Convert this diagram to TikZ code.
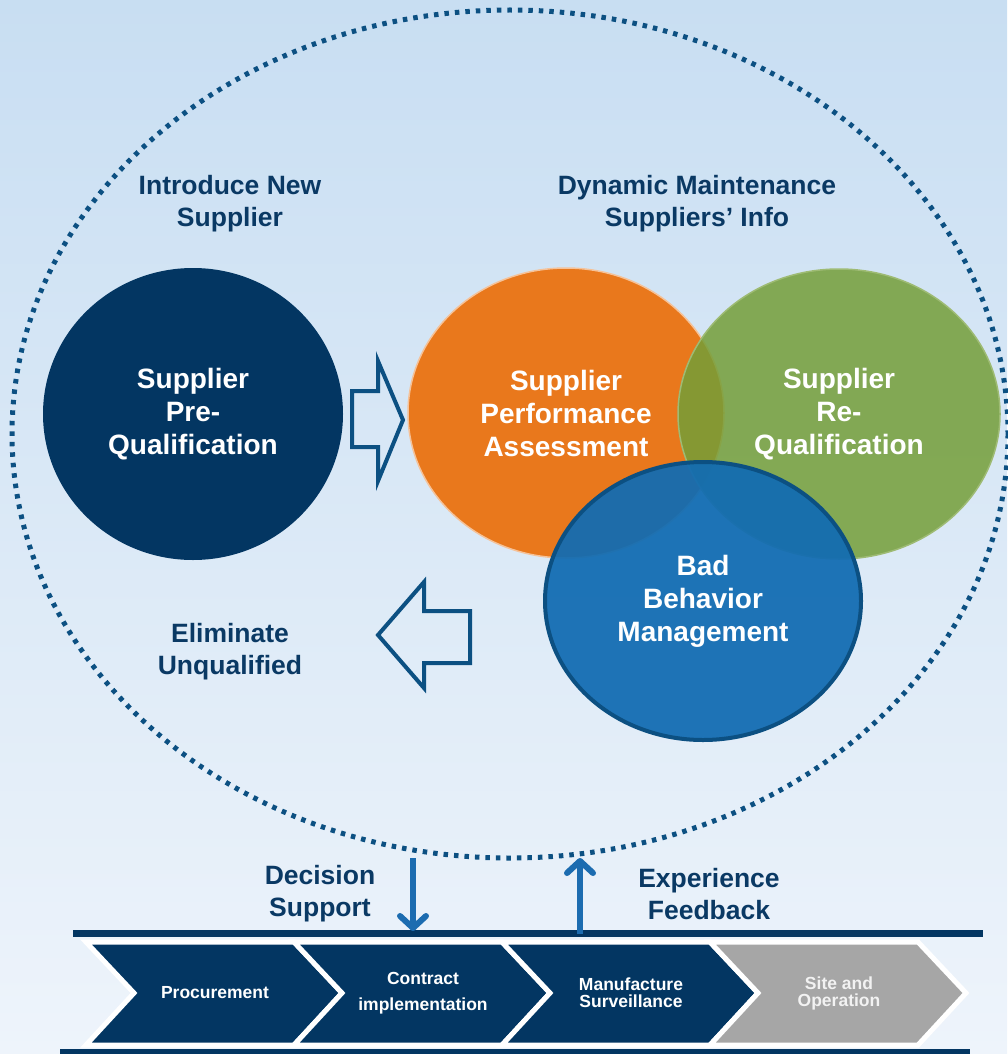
\documentclass[tikz,border=0pt]{standalone}
\usepackage{fontspec}
\setmainfont{Liberation Sans}
\usetikzlibrary{shapes.geometric,arrows.meta}

\definecolor{navy}{RGB}{3,54,98}
\definecolor{darkline}{RGB}{12,80,130}
\definecolor{headtext}{RGB}{10,57,100}
\definecolor{orangefill}{RGB}{233,120,28}
\definecolor{greenfill}{RGB}{116,158,56}
\definecolor{bluefill}{RGB}{18,108,178}
\definecolor{arrowblue}{RGB}{28,108,176}
\definecolor{bgtop}{RGB}{200,222,242}
\definecolor{bgbottom}{RGB}{238,244,251}
\definecolor{stagegray}{RGB}{166,166,166}
\definecolor{sitetext}{RGB}{242,242,242}

\tikzset{
	phase/.style={ellipse, inner sep=0pt, text=white, align=center, font=\fontsize{28}{33}\selectfont\bfseries},
	heading/.style={text=headtext, align=center, font=\fontsize{26.5}{32}\selectfont\bfseries},
	stage/.style={draw=white, line width=5pt, line join=miter},
	stagetext/.style={align=center, font=\fontsize{17.5}{17}\selectfont\bfseries},
	hollow/.style={draw=darkline, line width=4pt, line join=miter},
	flow/.style={draw=arrowblue, line width=6pt, -{Straight Barb[length=12pt, width=26pt, round]}}
}

\begin{document}
\begin{tikzpicture}[x=1pt, y=-1pt]
		\useasboundingbox (0,0) rectangle (1007,1054);
		\shade[top color=bgtop, bottom color=bgbottom] (0,0) rectangle (1007,1054);

		% Ciclo punteado
		\draw[draw=darkline, line width=5pt, dash pattern=on 4.5pt off 6pt] (510,434) ellipse [x radius=498, y radius=424];

		% Titulos
		\node[heading] (introduce) at (230,204) {Introduce New\\Supplier};
		\node[heading] (dynamic) at (697,204) {Dynamic Maintenance\\Suppliers' Info};
		\node[heading] (eliminate) at (230,652) {Eliminate\\Unqualified};

		% Circulos
		\node[phase, fill=navy, minimum width=300, minimum height=292] (prequal) at (193,414) {Supplier\\Pre-\\Qualification};
		\node[phase, fill=orangefill, draw=orangefill!45!white, line width=1.5pt, minimum width=316, minimum height=290] (perform) at (566,413) {Supplier\\Performance\\Assessment};
		\node[phase, fill=greenfill, fill opacity=0.85, text opacity=1, draw=greenfill!70!white, line width=1.5pt, minimum width=322, minimum height=290] (requal) at (839,414) {Supplier\\Re-\\Qualification};
		\node[phase, fill=bluefill, fill opacity=0.94, text opacity=1, draw=darkline, line width=4pt, minimum width=316, minimum height=278] (badbeh) at (703,601) {Bad\\Behavior\\Management};

		% Flechas huecas
		\draw[hollow] (352,391) -- (378,391) -- (378,361) -- (403,420) -- (378,481) -- (378,447) -- (352,447) -- cycle;
		\draw[hollow] (470,611) -- (424,611) -- (424,582) -- (378,635) -- (424,688) -- (424,663) -- (470,663) -- cycle;

		% Barras
		\fill[navy] (73,930) rectangle (983,937);
		\fill[navy] (60,1049) rectangle (970,1054);

		% Etapas
		\foreach \x/\col/\tcol/\name/\txt in {86/navy/white/procure/{Procurement},
			294/navy/white/contract/{Contract\\[9pt]implementation},
			502/navy/white/surveil/{Manufacture\\Surveillance},
			710/stagegray/sitetext/siteop/{Site and\\Operation}}{
			\draw[stage, fill=\col] (\x,942) -- (\x+208,942) -- (\x+256,993) -- (\x+208,1045) -- (\x,1045) -- (\x+48,993) -- cycle;
			\node[stagetext, text=\tcol] (\name) at (\x+129,993) {\txt};
		}

		% Flechas de decision y experiencia
		\coordinate (decTop) at (413,858);
		\coordinate (decBar) at (413,931);
		\coordinate (expBar) at (580,934);
		\coordinate (expTop) at (580,858);
		\draw[flow] (decTop) -- (decBar);
		\draw[flow] (expBar) -- (expTop);
		\node[heading] (decision) at (320,894) {Decision\\Support};
		\node[heading] (feedback) at (709,894) {Experience\\Feedback};
	\end{tikzpicture}
\end{document}
